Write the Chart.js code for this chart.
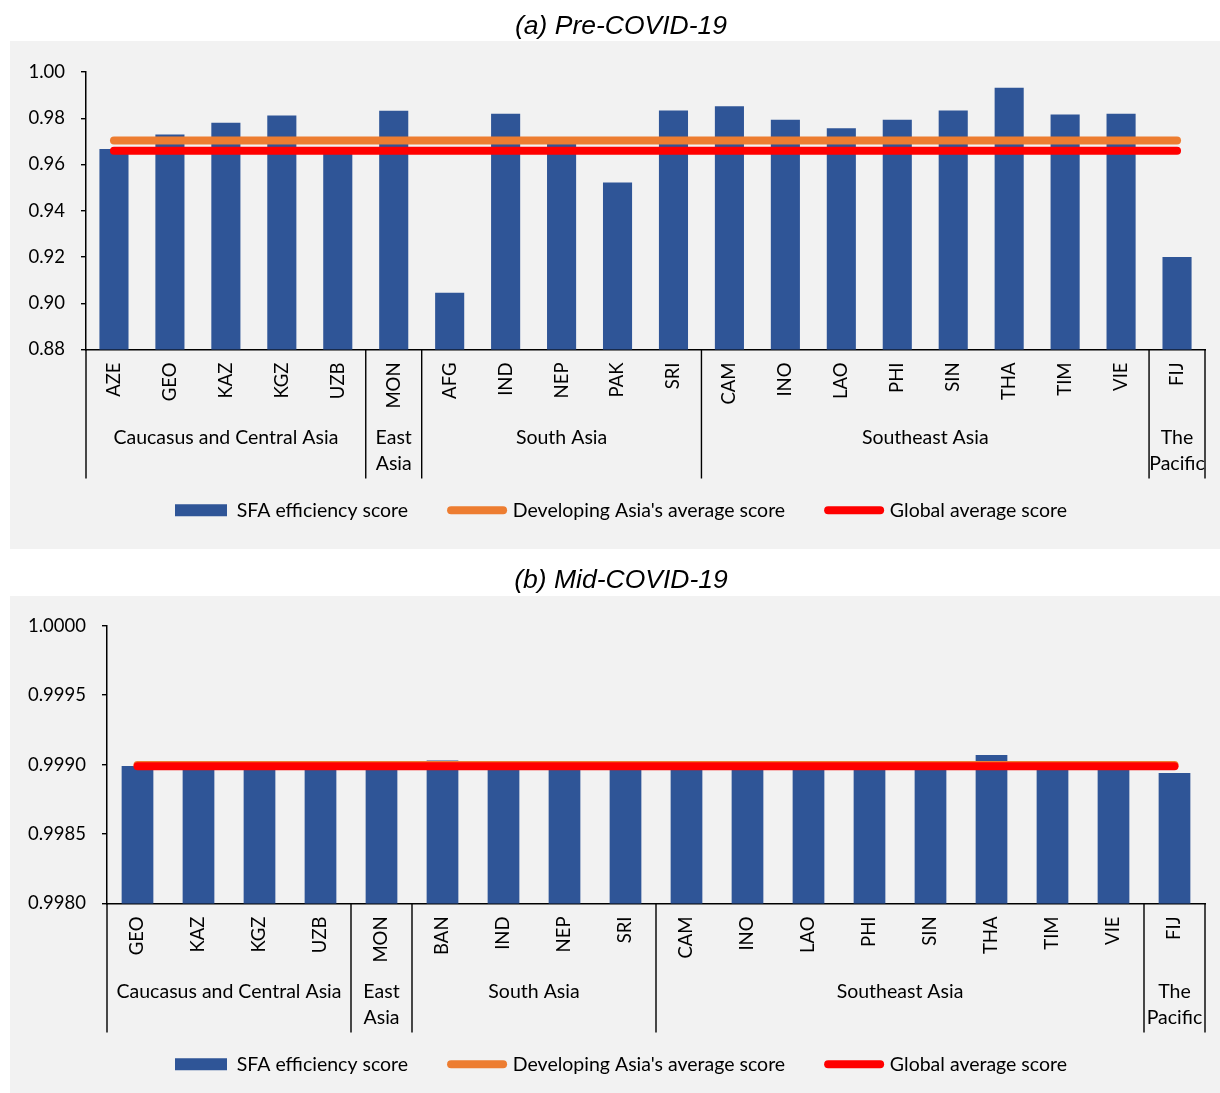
<!DOCTYPE html>
<html>
<head>
<meta charset="utf-8">
<script src="https://cdn.jsdelivr.net/npm/chart.js@4.4.0/dist/chart.umd.min.js"></script>
<style>
  html, body { margin: 0; padding: 0; background: #fff; }
  canvas { display: block; }
</style>
</head>
<body>
<canvas id="chartPre" width="1220" height="552"></canvas>
<canvas id="chartMid" width="1220" height="541"></canvas>
<script>
// (a) Pre-COVID-19
const preLabels = ['AZE','GEO','KAZ','KGZ','UZB','MON','AFG','IND','NEP','PAK','SRI','CAM','INO','LAO','PHI','SIN','THA','TIM','VIE','FIJ'];
const preScores = [0.9667,0.9730,0.9781,0.9812,0.9655,0.9832,0.9045,0.9820,0.9690,0.9522,0.9833,0.9852,0.9794,0.9757,0.9794,0.9833,0.9932,0.9816,0.9820,0.9200];
const preDevAsiaAvg = [0.9704,0.9704,0.9704,0.9704,0.9704,0.9704,0.9704,0.9704,0.9704,0.9704,0.9704,0.9704,0.9704,0.9704,0.9704,0.9704,0.9704,0.9704,0.9704,0.9704];
const preGlobalAvg = [0.9660,0.9660,0.9660,0.9660,0.9660,0.9660,0.9660,0.9660,0.9660,0.9660,0.9660,0.9660,0.9660,0.9660,0.9660,0.9660,0.9660,0.9660,0.9660,0.9660];
const preGroups = [['Caucasus and Central Asia'], ['East', 'Asia'], ['South Asia'], ['Southeast Asia'], ['The', 'Pacific']];
const preGroupSizes = [5, 1, 5, 8, 1];

// (b) Mid-COVID-19
const midLabels = ['GEO','KAZ','KGZ','UZB','MON','BAN','IND','NEP','SRI','CAM','INO','LAO','PHI','SIN','THA','TIM','VIE','FIJ'];
const midScores = [0.99899,0.99900,0.99900,0.99899,0.99902,0.99903,0.99899,0.99900,0.99899,0.99899,0.99899,0.99899,0.99899,0.99899,0.99907,0.99899,0.99902,0.99894];
const midDevAsiaAvg = [0.998998,0.998998,0.998998,0.998998,0.998998,0.998998,0.998998,0.998998,0.998998,0.998998,0.998998,0.998998,0.998998,0.998998,0.998998,0.998998,0.998998,0.998998];
const midGlobalAvg = [0.998988,0.998988,0.998988,0.998988,0.998988,0.998988,0.998988,0.998988,0.998988,0.998988,0.998988,0.998988,0.998988,0.998988,0.998988,0.998988,0.998988,0.998988];
const midGroups = [['Caucasus and Central Asia'], ['East', 'Asia'], ['South Asia'], ['Southeast Asia'], ['The', 'Pacific']];
const midGroupSizes = [4, 1, 4, 8, 1];

const seriesNames = ['SFA efficiency score', "Developing Asia's average score", 'Global average score'];
const BLUE = '#2f5597', ORANGE = '#ed7d31', RED = '#ff0000';
const FONT = 'Lato, "Open Sans", sans-serif';

Chart.defaults.font.family = FONT;
Chart.defaults.color = '#000';

// grey panel behind the plot + two-level category axis (groups + separators)
const groupAxis = {
  id: 'groupAxis',
  beforeDraw(chart, args, opts) {
    const ctx = chart.ctx;
    ctx.save();
    ctx.fillStyle = '#f2f2f2';
    ctx.fillRect(10, opts.panelTop, chart.width - 10, opts.panelBottom - opts.panelTop);
    ctx.restore();
  },
  afterDraw(chart, args, opts) {
    const { ctx, chartArea } = chart;
    const x = chart.scales.x;
    const half = (x.getPixelForValue(1) - x.getPixelForValue(0)) / 2;
    const bottom = chartArea.bottom;
    ctx.save();
    ctx.strokeStyle = '#000';
    ctx.lineWidth = 1.4;
    ctx.fillStyle = '#000';
    ctx.font = '19.5px ' + FONT;
    ctx.textAlign = 'center';
    ctx.textBaseline = 'middle';
    let start = 0;
    const left = x.getPixelForValue(0) - half;
    ctx.beginPath();
    ctx.moveTo(left, bottom);
    ctx.lineTo(left, bottom + 129);
    opts.sizes.forEach((n, g) => {
      const end = start + n;
      const right = x.getPixelForValue(end - 1) + half;
      ctx.moveTo(right, bottom);
      ctx.lineTo(right, bottom + 129);
      const cx = (x.getPixelForValue(start) + x.getPixelForValue(end - 1)) / 2;
      opts.groups[g].forEach((line, k) => ctx.fillText(line, cx, bottom + 88 + k * 26));
      start = end;
    });
    ctx.stroke();
    ctx.restore();
  }
};

function legendItems(chart) {
  return chart.data.datasets.map((ds, i) => ({
    text: ds.label,
    datasetIndex: i,
    fillStyle: i === 0 ? BLUE : 'rgba(0,0,0,0)',
    strokeStyle: i === 0 ? BLUE : ds.borderColor,
    lineWidth: i === 0 ? 0 : 8,
    lineCap: 'round',
    pointStyle: i === 0 ? 'rect' : 'line',
    hidden: false,
    fontColor: '#000'
  }));
}

function makeChart(id, cfg) {
  return new Chart(document.getElementById(id), {
    type: 'bar',
    data: {
      labels: cfg.labels,
      datasets: [
        { label: seriesNames[0], data: cfg.scores, backgroundColor: BLUE, borderWidth: 0,
          barPercentage: 0.52, categoryPercentage: 1, order: 3 },
        { type: 'line', label: seriesNames[1], data: cfg.dev, borderColor: ORANGE, borderWidth: 8,
          borderCapStyle: 'round', pointRadius: 0, order: 2 },
        { type: 'line', label: seriesNames[2], data: cfg.global, borderColor: RED, borderWidth: 8,
          borderCapStyle: 'round', pointRadius: 0, order: 1 }
      ]
    },
    options: {
      responsive: false,
      animation: false,
      events: [],
      layout: { padding: { left: cfg.padLeft, right: 0, top: 0, bottom: cfg.padBottom } },
      scales: {
        x: {
          grid: { display: false, drawTicks: false },
          border: { color: '#000', width: 1.5 },
          ticks: { minRotation: 90, maxRotation: 90, padding: 13, font: { size: 18.5 }, color: '#000', autoSkip: false },
          afterFit: s => { s.height = cfg.axisHeight; }
        },
        y: {
          min: cfg.min, max: cfg.max,
          grid: { drawOnChartArea: false, drawTicks: true, tickLength: 5, color: '#000', lineWidth: 1.4 },
          border: { color: '#000', width: 1.5 },
          ticks: { stepSize: cfg.step, padding: 16, font: { size: 18.5 }, color: '#000',
                   callback: v => v.toFixed(cfg.decimals) },
          afterFit: s => { s.width = cfg.plotLeft - cfg.padLeft; }
        },
        // empty right-hand spacer so the plot stops at x=1205 while the legend spans the panel
        spacer: {
          type: 'linear', position: 'right', display: true,
          grid: { display: false }, border: { display: false }, ticks: { display: false },
          afterFit: s => { s.width = 15; }
        }
      },
      plugins: {
        title: {
          display: true, text: cfg.title, color: '#000',
          font: { family: '"Liberation Sans", Arial, sans-serif', size: 26.5, style: 'italic', weight: 'normal' },
          padding: { top: cfg.titleTop, bottom: cfg.titleBottom }
        },
        legend: {
          position: 'bottom',
          labels: {
            usePointStyle: true, pointStyleWidth: 52, boxHeight: 12, padding: 43,
            font: { size: 19.5 }, color: '#000', generateLabels: legendItems
          }
        },
        tooltip: { enabled: false },
        groupAxis: { groups: cfg.groups, sizes: cfg.sizes, panelTop: cfg.panelTop, panelBottom: cfg.panelBottom }
      }
    },
    plugins: [groupAxis]
  });
}

makeChart('chartPre', {
  title: '(a) Pre-COVID-19', labels: preLabels, scores: preScores, dev: preDevAsiaAvg, global: preGlobalAvg,
  groups: preGroups, sizes: preGroupSizes, min: 0.88, max: 1.0, step: 0.02, decimals: 2,
  padLeft: 22, plotLeft: 86, padBottom: 22, axisHeight: 108, titleTop: 11, titleBottom: 29.2,
  panelTop: 41, panelBottom: 549
});

makeChart('chartMid', {
  title: '(b) Mid-COVID-19', labels: midLabels, scores: midScores, dev: midDevAsiaAvg, global: midGlobalAvg,
  groups: midGroups, sizes: midGroupSizes, min: 0.998, max: 1.0, step: 0.0005, decimals: 4,
  padLeft: 22, plotLeft: 107, padBottom: 9, axisHeight: 108, titleTop: 13, titleBottom: 28.9,
  panelTop: 44, panelBottom: 541
});
</script>
</body>
</html>
